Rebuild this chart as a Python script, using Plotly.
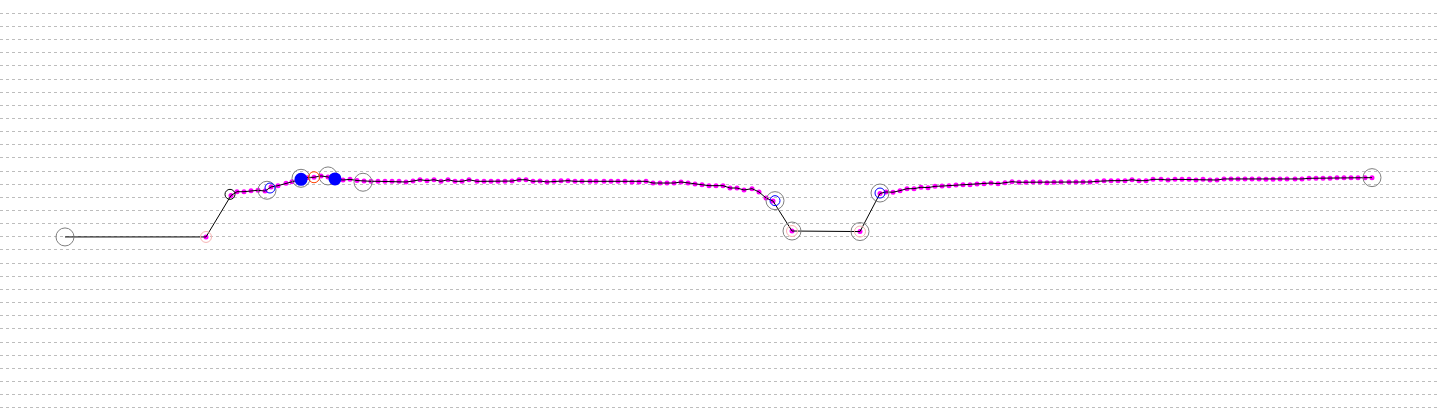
import plotly.graph_objects as go

# track profile: distance (km) and elevation (m)
dist_km = [0.00, 1.41, 1.66, 1.72, 1.79, 1.86, 1.93, 2.00, 2.06, 2.13, 2.21, 2.27, 2.34, 2.42, 2.49,
           2.56, 2.63, 2.70, 2.78, 2.85, 2.92, 2.99, 3.06, 3.13, 3.20, 3.27, 3.34, 3.41, 3.48, 3.55,
           3.62, 3.69, 3.76, 3.83, 3.90, 3.97, 4.04, 4.12, 4.19, 4.26, 4.33, 4.40, 4.47, 4.54, 4.61,
           4.68, 4.75, 4.82, 4.89, 4.96, 5.03, 5.10, 5.17, 5.25, 5.31, 5.39, 5.46, 5.53, 5.60, 5.67,
           5.74, 5.81, 5.88, 5.95, 6.02, 6.09, 6.16, 6.23, 6.30, 6.37, 6.44, 6.51, 6.58, 6.65, 6.72,
           6.79, 6.87, 6.94, 7.01, 7.08, 7.27, 7.95, 8.15, 8.21, 8.28, 8.35, 8.42, 8.49, 8.56, 8.63,
           8.70, 8.77, 8.84, 8.91, 8.98, 9.05, 9.12, 9.19, 9.26, 9.33, 9.40, 9.47, 9.54, 9.61, 9.68,
           9.75, 9.82, 9.89, 9.96, 10.04, 10.11, 10.18, 10.25, 10.32, 10.39, 10.46, 10.53, 10.60,
           10.67, 10.74, 10.81, 10.88, 10.96, 11.03, 11.10, 11.17, 11.24, 11.31, 11.38, 11.45, 11.52,
           11.59, 11.66, 11.73, 11.80, 11.87, 11.94, 12.01, 12.08, 12.15, 12.22, 12.30, 12.37, 12.44,
           12.51, 12.58, 12.65, 12.72, 12.79, 12.86, 12.93, 13.00, 13.07]
elev_m = [129.9, 129.9, 161.4, 164.3, 164.3, 165.1, 165.4, 164.8, 167.9, 168.9, 170.7, 171.9, 173.2,
          175.0, 175.3, 176.3, 175.5, 174.0, 173.2, 173.7, 172.8, 172.4, 172.2, 172.2, 172.2, 172.2,
          172.2, 171.7, 172.4, 173.4, 172.7, 173.4, 172.2, 173.4, 172.2, 172.2, 173.4, 172.2, 172.2,
          172.2, 172.2, 172.2, 172.4, 173.4, 173.4, 172.2, 172.4, 171.7, 172.2, 172.7, 172.7, 172.2,
          172.2, 172.2, 172.2, 172.2, 172.2, 172.2, 172.2, 171.7, 171.7, 172.2, 170.9, 170.9, 170.9,
          170.9, 171.7, 170.9, 170.2, 169.6, 168.9, 168.9, 168.9, 167.1, 167.1, 165.6, 166.6, 164.1,
          159.5, 157.2, 134.4, 134.0, 163.0, 164.1, 163.9, 165.1, 166.6, 166.6, 167.7, 167.4, 168.4,
          168.6, 168.9, 169.4, 169.6, 169.6, 170.2, 170.4, 170.9, 170.4, 171.2, 171.9, 171.5, 171.5,
          171.7, 171.7, 171.2, 171.5, 171.7, 171.7, 171.7, 171.7, 171.7, 172.2, 172.7, 172.7, 172.7,
          172.7, 173.4, 172.7, 172.7, 173.7, 173.7, 173.2, 173.7, 173.7, 173.7, 173.2, 173.7, 173.2,
          173.2, 174.0, 174.0, 174.0, 174.0, 174.0, 174.0, 173.7, 173.7, 174.0, 174.0, 174.0, 174.0,
          174.5, 174.5, 174.5, 174.5, 175.0, 175.0, 175.0, 175.0, 175.0, 175.0]

# waypoint groups
grey_km = [0.00, 2.02, 2.36, 2.63, 2.98, 7.10, 7.27, 7.95, 8.15, 13.07]
grey_m = [129.9, 165.4, 174.5, 176.3, 171.5, 157.5, 134.4, 134.0, 163.3, 175.0]
pink_km = [1.41, 7.27, 7.95]
pink_m = [129.9, 134.4, 134.0]
blue_km = [2.05, 7.10, 8.15]
blue_m = [167.1, 157.5, 163.3]
black_km = [1.65]
black_m = [162.3]
orange_km = [2.49]
orange_m = [175.3]
fill_km = [2.36, 2.70]
fill_m = [173.7, 174.0]

fig = go.Figure()
fig.add_trace(go.Scatter(x=dist_km[1:], y=elev_m[1:], mode='markers',
    marker=dict(size=5, color='#ff00ff')))
fig.add_trace(go.Scatter(x=dist_km, y=elev_m, mode='lines',
    line=dict(color='black', width=1)))
for xs, ys, size, color in [(grey_km, grey_m, 18, '#808080'), (pink_km, pink_m, 11, '#f6b4b4'),
                            (blue_km, blue_m, 10, '#0000ff'), (black_km, black_m, 10, '#000000'),
                            (orange_km, orange_m, 11, '#ff4000')]:
    fig.add_trace(go.Scatter(x=xs, y=ys, mode='markers',
        marker=dict(size=size, color='rgba(0,0,0,0)', line=dict(color=color, width=1))))
fig.add_trace(go.Scatter(x=fill_km, y=fill_m, mode='markers',
    marker=dict(size=13, color='#0000ff')))

fig.update_layout(width=1437, height=413, margin=dict(l=0, r=0, t=0, b=0),
    paper_bgcolor='white', plot_bgcolor='white', showlegend=False,
    xaxis=dict(range=[-0.65, 13.72], showgrid=False, zeroline=False, showticklabels=False),
    yaxis=dict(range=[-4.0, 310.1], tick0=0, dtick=10, showgrid=True, gridcolor='#bdbdbd',
               griddash='3px,3px', gridwidth=1, zeroline=False, showticklabels=False))
fig.write_html("out.html", config={'displayModeBar': False},
    post_script="document.body.style.margin='0';document.body.style.overflow='hidden';")
